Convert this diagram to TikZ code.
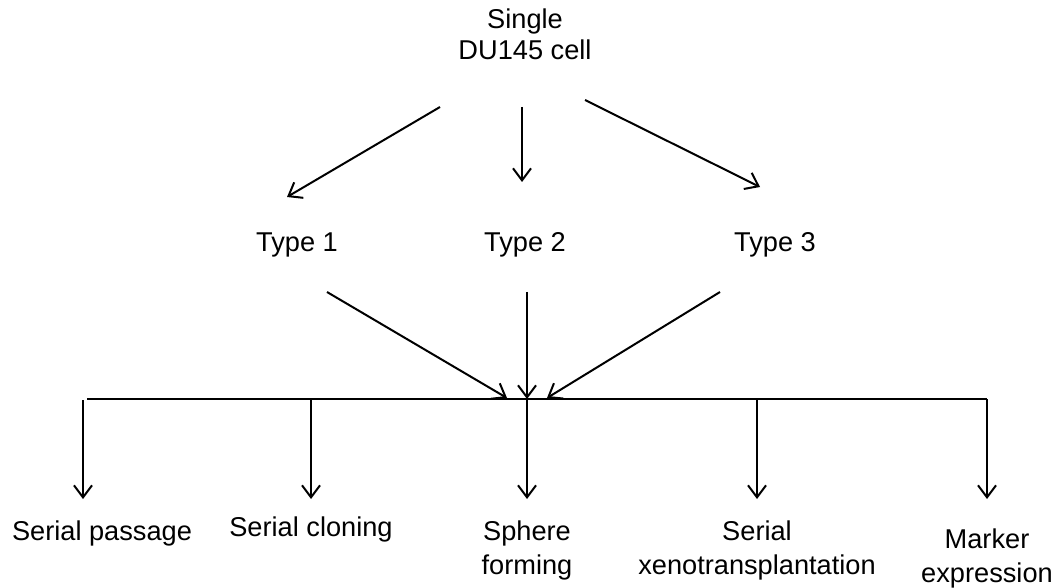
\documentclass[tikz,border=0pt]{standalone}
\usepackage{fontspec}
\setmainfont{Liberation Sans}
\usetikzlibrary{positioning,arrows.meta}
\tikzset{my label/.style={font=\fontsize{13.6}{15.5}\selectfont, align=center, inner sep=0pt},
my arrow/.style={line width=1pt,-{Straight Barb[length=6pt,width=9pt]}}}

\begin{document}
\begin{tikzpicture}[x=0.5pt,y=-0.5pt]
\useasboundingbox (0,0) rectangle (1060,588);
\node[my label] (cell) at (525,34) {Single\\DU145 cell};
\node[my label,anchor=base] (t1) at (297,252) {Type 1};
\node[my label,anchor=base] (t2) at (525,252) {Type 2};
\node[my label,anchor=base] (t3) at (775,252) {Type 3};
\node[my label,anchor=base] (b1) at (102,540) {Serial passage};
\node[my label,anchor=base] (b2) at (311,536) {Serial cloning};
\node[my label] (b3) at (527,550) {Sphere\\[1.5pt]forming};
\node[my label] (b4) at (757,550) {Serial\\[1.5pt]xenotransplantation};
\node[my label] (b5) at (987,558) {Marker\\[1.5pt]expression};
% arrow ends
\coordinate (c1) at (440,107); \coordinate (c2) at (522,107); \coordinate (c3) at (585,100);
\coordinate (u1) at (287,197); \coordinate (u2) at (522,182); \coordinate (u3) at (760,187);
\coordinate (d1) at (327,292); \coordinate (d2) at (527,292); \coordinate (d3) at (720,292);
\coordinate (hub) at (527,399);
\coordinate (h1) at (507,398); \coordinate (h3) at (547,398);
\coordinate (l1) at (87,399); \coordinate (l5) at (987,399);
\coordinate (v1) at (83,400); \coordinate (v2) at (311,399); \coordinate (v4) at (757,399);
\coordinate (e1) at (83,499); \coordinate (e2) at (311,499); \coordinate (e3) at (527,499);
\coordinate (e4) at (757,499); \coordinate (e5) at (987,499);
\draw[my arrow] (c1) -- (u1);
\draw[my arrow] (c2) -- (u2);
\draw[my arrow] (c3) -- (u3);
\draw[my arrow] (d1) -- (h1);
\draw[my arrow] (d2) -- (hub);
\draw[my arrow] (d3) -- (h3);
\draw[line width=1pt] (l1) -- (l5);
\draw[my arrow] (v1) -- (e1);
\draw[my arrow] (v2) -- (e2);
\draw[my arrow] (hub) -- (e3);
\draw[my arrow] (v4) -- (e4);
\draw[my arrow] (l5) -- (e5);
\end{tikzpicture}
\end{document}
